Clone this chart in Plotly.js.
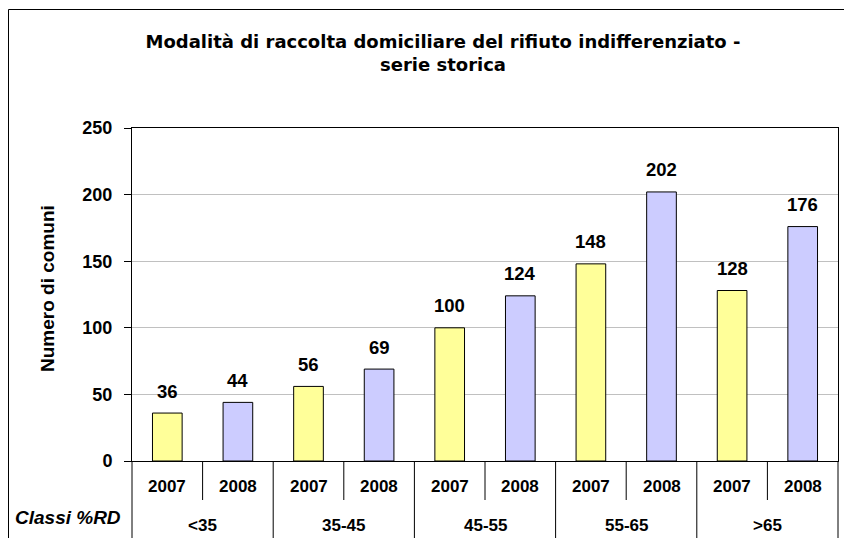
<!DOCTYPE html>
<html>
<head>
<meta charset="utf-8">
<script src="https://cdn.plot.ly/plotly-3.0.1.min.js"></script>
<style>html,body{margin:0;padding:0;background:#fff;}#chart{width:844px;height:538px;}</style>
</head>
<body>
<div id="chart"></div>
<script>
var classes = ["<35", "35-45", "45-55", "55-65", ">65"];
var years = ["2007", "2008"];
var values2007 = [36, 56, 100, 148, 128];
var values2008 = [44, 69, 124, 202, 176];
var yTicks = [0, 50, 100, 150, 200, 250];
var titleText = "Modalità di raccolta domiciliare del rifiuto indifferenziato -<br>serie storica";
var yTitle = "Numero di comuni";
var classLabel = "Classi %RD";
var colors = {"2007": "#FFFF99", "2008": "#CCCCFF"};

var FONT = "Liberation Sans, Arial, sans-serif";
var WIDEFONT = "DejaVu Sans, Verdana, sans-serif";
var W = 844, H = 538;
var ML = 132, MR = 6, MT = 128, MB = 77;
var PW = W - ML - MR, PH = H - MT - MB;
function px2paperX(px) { return (px - ML) / PW; }
function px2paperY(py) { return (H - MB - py) / PH; }

// Build flat category positions from classes × years
var xs = [], ys = [], cols = [], yrs = [];
classes.forEach(function (c, ci) {
  years.forEach(function (y, yi) {
    xs.push(ci * years.length + yi);
    ys.push(yi === 0 ? values2007[ci] : values2008[ci]);
    cols.push(colors[y]);
    yrs.push(y);
  });
});
var nCat = xs.length;

var traces = [{
  type: "bar",
  x: xs,
  y: ys,
  width: 0.42,
  marker: {color: cols, line: {color: "#000", width: 1}},
  hoverinfo: "y",
  showlegend: false
}];

var annotations = [];
// data labels
xs.forEach(function (x, i) {
  annotations.push({
    x: x, y: ys[i], xref: "x", yref: "y",
    text: String(ys[i]), showarrow: false,
    yanchor: "middle", yshift: 22,
    font: {family: FONT, size: 18.5, color: "#000", weight: "bold"}
  });
});
// year labels
xs.forEach(function (x, i) {
  annotations.push({
    x: x, y: px2paperY(486), xref: "x", yref: "paper",
    text: yrs[i], showarrow: false, yanchor: "middle",
    font: {family: FONT, size: 17, color: "#000", weight: "bold"}
  });
});
// class labels
classes.forEach(function (c, ci) {
  annotations.push({
    x: ci * years.length + (years.length - 1) / 2, y: px2paperY(525), xref: "x", yref: "paper",
    text: c, showarrow: false, yanchor: "middle",
    font: {family: FONT, size: 17, color: "#000", weight: "bold"}
  });
});
// Classi %RD
annotations.push({
  x: px2paperX(123), y: px2paperY(517), xref: "paper", yref: "paper",
  text: classLabel, showarrow: false, xanchor: "right", yanchor: "middle",
  font: {family: FONT, size: 19, color: "#000", weight: "bold", style: "italic"}
});
// y title
annotations.push({
  x: px2paperX(47), y: px2paperY(289), xref: "paper", yref: "paper",
  text: yTitle, showarrow: false, textangle: -90, xanchor: "center", yanchor: "middle",
  font: {family: FONT, size: 19, color: "#000", weight: "bold"}
});

var shapes = [];
// separators under axis
for (var k = 0; k <= nCat; k++) {
  var isClassBoundary = (k % years.length === 0);
  shapes.push({
    type: "line", xref: "paper", yref: "paper",
    x0: k / nCat, x1: k / nCat,
    y0: 0, y1: isClassBoundary ? px2paperY(H + 2) : px2paperY(500),
    line: {color: "#000", width: 1}, layer: "above"
  });
}
// outer frame
shapes.push({
  type: "rect", xref: "paper", yref: "paper",
  x0: px2paperX(8.5), x1: px2paperX(W + 10),
  y0: px2paperY(H + 10), y1: px2paperY(9.5),
  line: {color: "#000", width: 1}, fillcolor: "rgba(0,0,0,0)", layer: "below"
});

var layout = {
  width: W, height: H,
  margin: {l: ML, r: MR, t: MT, b: MB, pad: 0},
  paper_bgcolor: "#fff", plot_bgcolor: "#fff",
  title: {
    text: titleText, x: 443 / W, xanchor: "center", xref: "container",
    y: 1 - 48 / H, yanchor: "middle", yref: "container",
    font: {family: WIDEFONT, size: 18, color: "#000", weight: "bold"}
  },
  xaxis: {
    range: [-0.5, nCat - 0.5], showticklabels: false, ticks: "",
    showgrid: false, zeroline: false, showline: true, mirror: true,
    linecolor: "#000", linewidth: 1, fixedrange: true
  },
  yaxis: {
    range: [0, 250], tickvals: yTicks, ticktext: yTicks.map(String),
    ticks: "outside", ticklen: 7, tickcolor: "#000", tickwidth: 1,
    ticklabelstandoff: 8,
    showgrid: true, gridcolor: "#c0c0c0", gridwidth: 1,
    zeroline: false, showline: true, mirror: true, linecolor: "#000", linewidth: 1,
    tickfont: {family: FONT, size: 18, color: "#000", weight: "bold"},
    fixedrange: true
  },
  annotations: annotations,
  shapes: shapes,
  bargap: 0.58
};

Plotly.newPlot("chart", traces, layout, {displayModeBar: false, staticPlot: true});
</script>
</body>
</html>
